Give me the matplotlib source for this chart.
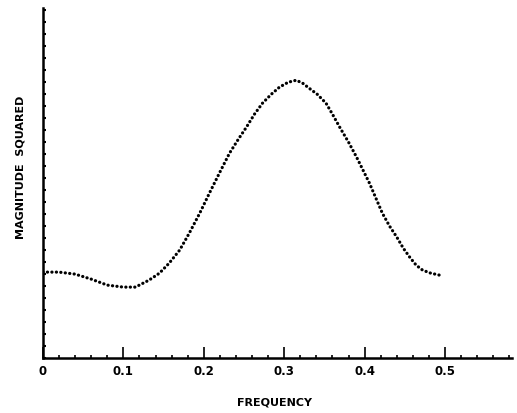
import numpy as np
import matplotlib
matplotlib.use("Agg")
import matplotlib.pyplot as plt
from matplotlib.ticker import MultipleLocator

# values (arbitrary magnitude units)
freq = [0.0, 0.02, 0.04, 0.06, 0.08, 0.10, 0.115, 0.132, 0.145, 0.157, 0.170, 0.182,
        0.195, 0.207, 0.220, 0.232, 0.243, 0.253, 0.263, 0.273, 0.284, 0.294, 0.305,
        0.315, 0.323, 0.331, 0.341, 0.352, 0.360, 0.369, 0.380,
        0.390, 0.398, 0.406, 0.414, 0.422, 0.431, 0.440, 0.448, 0.456, 0.464,
        0.472, 0.482, 0.493]
mag_sq = [86, 86, 84, 79, 73, 71, 71, 78, 85, 95, 108, 125,
          145, 165, 186, 205, 219, 231, 244, 255, 264, 271, 276,
          278, 275, 270, 264, 255, 244, 231, 216,
          201, 188, 175, 160, 145, 132, 121, 110, 101, 93,
          88, 85, 83]
xtick_vals = [0, 0.1, 0.2, 0.3, 0.4, 0.5]
xtick_labels = ["0", "0.1", "0.2", "0.3", "0.4", "0.5"]

fig = plt.figure(figsize=(5.17, 4.13), dpi=100)
ax = fig.add_axes([0.083, 0.133, 0.907, 0.847])

ax.plot(freq, mag_sq, color="black", linewidth=2.3,
        linestyle=(0, (0.05, 1.35)), dash_capstyle="round", solid_capstyle="round")

ax.set_xlim(0, 0.583)
ax.set_ylim(0, 350)

for s in ["top", "right"]:
    ax.spines[s].set_visible(False)
for s in ["left", "bottom"]:
    ax.spines[s].set_linewidth(1.8)

ax.set_xticks(xtick_vals)
ax.set_xticklabels(xtick_labels, fontsize=8.5, fontweight="bold", family="DejaVu Sans")
ax.xaxis.set_minor_locator(MultipleLocator(0.02))
ax.tick_params(axis="x", which="major", direction="in", length=8, width=1.2, pad=5)
ax.tick_params(axis="x", which="minor", direction="in", length=2, width=1.2)

ax.set_yticks([])
ax.yaxis.set_minor_locator(MultipleLocator(12))
ax.tick_params(axis="y", which="minor", direction="in", length=2.5, width=1.5)

fig.text(0.53, 0.025, "FREQUENCY", ha="center", va="center",
         fontsize=8, fontweight="bold", family="DejaVu Sans")
fig.text(0.039, 0.596, "MAGNITUDE  SQUARED", ha="center", va="center",
         rotation=90, fontsize=8, fontweight="bold", family="DejaVu Sans")

fig.savefig("out.png", dpi=100)
